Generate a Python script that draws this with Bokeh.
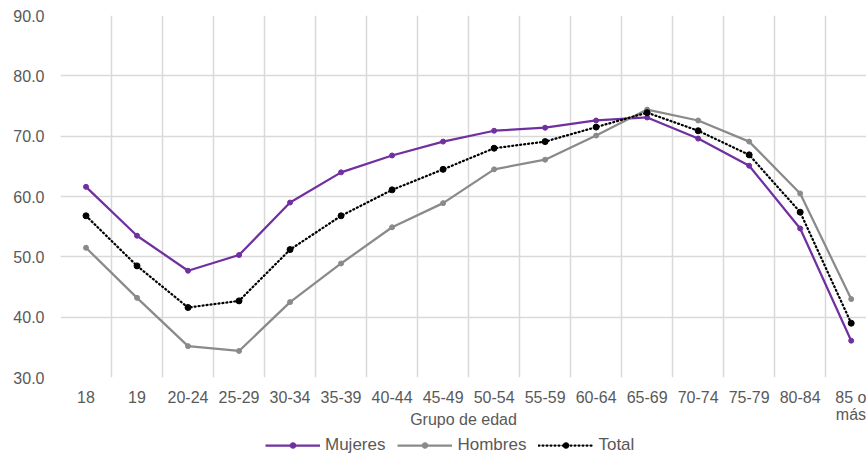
from bokeh.plotting import figure
from bokeh.models import Range1d, FixedTicker, Legend, LegendItem
from bokeh.layouts import column
from bokeh.embed import file_html
from bokeh.resources import INLINE

categories = ["18", "19", "20-24", "25-29", "30-34", "35-39", "40-44", "45-49",
              "50-54", "55-59", "60-64", "65-69", "70-74", "75-79", "80-84", "85 o\nmás"]
mujeres = [61.6, 53.5, 47.7, 50.3, 59.0, 64.0, 66.8, 69.1, 70.9, 71.4, 72.6, 73.1, 69.6, 65.1, 54.7, 36.1]
hombres = [51.5, 43.2, 35.2, 34.4, 42.5, 48.9, 54.9, 58.9, 64.5, 66.1, 70.1, 74.4, 72.6, 69.1, 60.5, 43.0]
total = [56.8, 48.5, 41.6, 42.7, 51.2, 56.8, 61.1, 64.5, 68.0, 69.1, 71.5, 73.9, 70.9, 66.9, 57.4, 39.0]
series_names = ["Mujeres", "Hombres", "Total"]
y_ticks = [30, 40, 50, 60, 70, 80, 90]

xs = list(range(len(categories)))

FONT = "Liberation Sans"
FS = "16px"
TXT = "#595959"
GRID = "#d9d9d9"
PURPLE = "#7030A0"
GRAY = "#8a8a8a"

p = figure(width=866, height=432, output_backend="svg", toolbar_location=None,
           x_range=Range1d(-0.5, 15.3), y_range=Range1d(30, 90),
           min_border_left=60, min_border_right=0, min_border_top=15, min_border_bottom=55)
p.outline_line_color = None
p.background_fill_color = "white"

# axes
p.xaxis.ticker = FixedTicker(ticks=xs)
p.xaxis.major_label_overrides = {i: c for i, c in enumerate(categories)}
p.xaxis.axis_line_color = None
p.xaxis.major_tick_line_color = None
p.xaxis.minor_tick_line_color = None
p.xaxis.major_label_text_font = FONT
p.xaxis.major_label_text_font_size = FS
p.xaxis.major_label_text_color = TXT
p.xaxis.major_label_text_line_height = 1.0
p.xaxis.major_label_standoff = 5
p.xaxis.axis_label = "Grupo de edad"
p.xaxis.axis_label_text_font = FONT
p.xaxis.axis_label_text_font_size = FS
p.xaxis.axis_label_text_font_style = "normal"
p.xaxis.axis_label_text_color = TXT
p.xaxis.axis_label_standoff = -15

p.yaxis.ticker = FixedTicker(ticks=y_ticks)
p.yaxis.major_label_overrides = {t: f"{t:.1f}" for t in y_ticks}
p.yaxis.axis_line_color = None
p.yaxis.major_tick_line_color = None
p.yaxis.minor_tick_line_color = None
p.yaxis.major_label_text_font = FONT
p.yaxis.major_label_text_font_size = FS
p.yaxis.major_label_text_color = TXT
p.yaxis.major_label_standoff = 10

# grids
p.xgrid.ticker = FixedTicker(ticks=[i - 0.5 for i in range(len(categories) + 1)])
p.xgrid.grid_line_color = GRID
p.xgrid.grid_line_width = 1.5
p.ygrid.ticker = FixedTicker(ticks=y_ticks)
p.ygrid.grid_line_color = GRID
p.ygrid.grid_line_width = 1.5

# series
p.line(xs, mujeres, line_color=PURPLE, line_width=2.25)
p.scatter(xs, mujeres, size=5, color=PURPLE)
p.line(xs, hombres, line_color=GRAY, line_width=2.25)
p.scatter(xs, hombres, size=5, color=GRAY)
p.line(xs, total, line_color="black", line_width=2.25, line_dash="1 3", line_cap="round")
p.scatter(xs, total, size=6, color="black")

# legend strip (separate figure below the chart); its series lie outside its
# tiny visible range, so only the legend itself shows
lg = figure(width=866, height=23, output_backend="svg", toolbar_location=None,
            x_range=Range1d(100, 101), y_range=Range1d(100, 101),
            x_axis_location=None, y_axis_location=None,
            min_border_left=0, min_border_right=0, min_border_top=0, min_border_bottom=0)
lg.outline_line_color = None
lg.xgrid.visible = False
lg.ygrid.visible = False
l1 = lg.line(xs, mujeres, line_color=PURPLE, line_width=2.25)
m1 = lg.scatter(xs, mujeres, size=4, color=PURPLE)
l2 = lg.line(xs, hombres, line_color=GRAY, line_width=2.25)
m2 = lg.scatter(xs, hombres, size=4, color=GRAY)
l3 = lg.line(xs, total, line_color="black", line_width=2.25, line_dash="1 3", line_cap="round")
m3 = lg.scatter(xs, total, size=5, color="black")

legend = Legend(items=[LegendItem(label=series_names[0], renderers=[l1, m1]),
                       LegendItem(label=series_names[1], renderers=[l2, m2]),
                       LegendItem(label=series_names[2], renderers=[l3, m3])],
                orientation="horizontal", location=(205, 0),
                border_line_color=None, background_fill_alpha=0,
                label_text_font=FONT, label_text_font_size="17px", label_text_color=TXT,
                glyph_width=55, glyph_height=14, label_height=14, label_standoff=5,
                spacing=12, padding=1, margin=0)
lg.add_layout(legend, "center")

layout = column(p, lg, spacing=0)
open("out.html", "w").write(file_html(layout, INLINE))
